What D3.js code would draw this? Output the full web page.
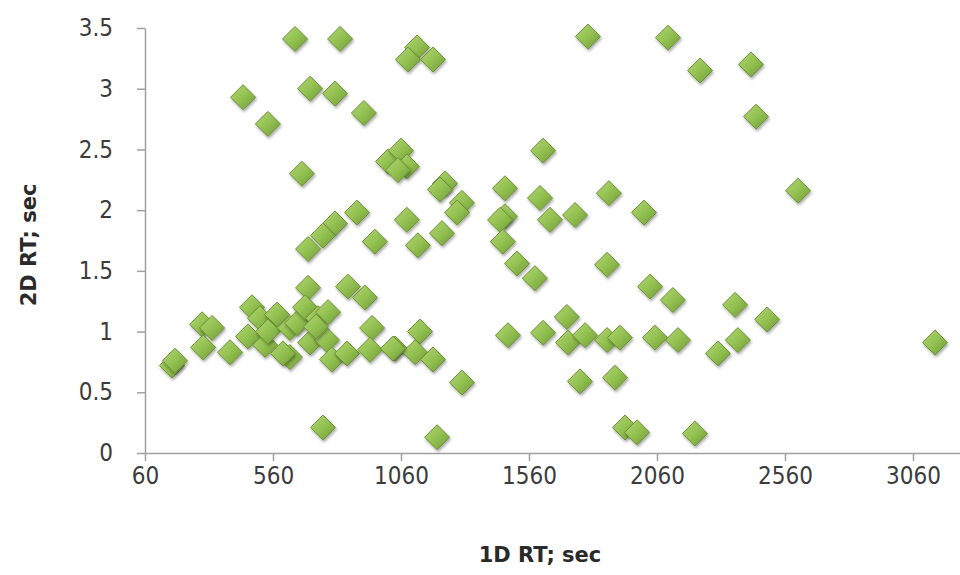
<!DOCTYPE html>
<meta charset="utf-8">
<script src="https://d3js.org/d3.v7.min.js"></script>
<style>
  body { margin: 0; background: #fff; }
  .tick text { font-family: "Liberation Sans Narrow", "DejaVu Sans Condensed", "Open Sans", sans-serif; fill: #3c3c3c; }
  .axis-title { font-family: "DejaVu Sans", sans-serif; font-weight: bold; fill: #2a2a2a; }
</style>
<div id="chart"></div>
<script>

// 1D retention time (sec)
var rt1 = [646, 822, 1123, 1087, 1185, 443, 540, 705, 802, 915,
    1790, 2103, 2228, 2427, 2447, 2611, 1615, 1603, 1642, 1740,
    1872, 2009, 673, 888, 802, 755, 697, 958, 1009, 1060,
    1083, 1048, 1232, 1212, 1298, 1279, 1466, 1466, 1447, 1458,
    1513, 1583, 1083, 1220, 1126, 1865, 2033, 2122, 2365, 2490,
    1708, 1615, 1478, 1712, 1779, 1865, 1915, 2052, 2142, 2298,
    2376, 3146, 1759, 1896, 1935, 1982, 2208, 1298, 1201, 755,
    1134, 1037, 1115, 1185, 165, 177, 283, 322, 287, 392,
    478, 509, 576, 462, 529, 540, 626, 654, 626, 599,
    697, 685, 736, 775, 705, 771, 790, 849, 853, 919,
    947, 939, 1029, 728];

// 2D retention time (sec)
var rt2 = [3.41, 3.41, 3.34, 3.24, 3.24, 2.93, 2.71, 3.00, 2.96, 2.80,
    3.43, 3.42, 3.15, 3.20, 2.77, 2.16, 2.49, 2.10, 1.92, 1.96,
    2.14, 1.98, 2.30, 1.98, 1.89, 1.79, 1.68, 1.74, 2.40, 2.49,
    2.36, 2.33, 2.22, 2.17, 2.06, 1.98, 2.18, 1.95, 1.92, 1.74,
    1.56, 1.44, 1.92, 1.81, 1.71, 1.55, 1.37, 1.26, 1.22, 1.10,
    1.12, 0.99, 0.97, 0.91, 0.97, 0.93, 0.95, 0.95, 0.93, 0.82,
    0.93, 0.91, 0.59, 0.62, 0.21, 0.17, 0.16, 0.58, 0.13, 0.21,
    1.00, 0.86, 0.83, 0.77, 0.72, 0.76, 1.06, 1.03, 0.87, 0.83,
    1.20, 1.11, 1.14, 0.96, 0.89, 1.00, 1.03, 1.07, 0.79, 0.82,
    1.36, 1.20, 1.11, 1.16, 0.91, 0.93, 0.77, 0.82, 1.37, 1.28,
    1.03, 0.85, 0.86, 1.04];

var xTicks = [60, 560, 1060, 1560, 2060, 2560, 3060];
var yTicks = [0, 0.5, 1, 1.5, 2, 2.5, 3, 3.5];

var width = 960, height = 575;

var svg = d3.select("#chart")
    .append("svg")
    .attr("width", width)
    .attr("height", height);

var defs = svg.append("defs");

// diamond shading
var grad = defs.append("linearGradient")
    .attr("id", "dgrad")
    .attr("x1", "0").attr("y1", "0")
    .attr("x2", "1").attr("y2", "1");
grad.append("stop").attr("offset", "0%").attr("stop-color", "#b2d675");
grad.append("stop").attr("offset", "50%").attr("stop-color", "#93c151");
grad.append("stop").attr("offset", "100%").attr("stop-color", "#6f9a34");

var shadow = defs.append("filter")
    .attr("id", "shadow")
    .attr("x", "-50%").attr("y", "-50%")
    .attr("width", "200%").attr("height", "200%");
shadow.append("feDropShadow")
    .attr("dx", 1).attr("dy", 2)
    .attr("stdDeviation", 1.6)
    .attr("flood-color", "#000")
    .attr("flood-opacity", 0.35);

// scales
var x = d3.scaleLinear()
    .domain([60, 3560])
    .range([145, 145 + 7 * 128]);

var y = d3.scaleLinear()
    .domain([0, 3.5])
    .range([453, 28]);

// X axis
svg.append("g")
    .attr("transform", "translate(0," + y(0) + ")")
    .call(d3.axisBottom(x).tickValues(xTicks).tickFormat(function (d) { return String(d); })
        .tickSize(8).tickSizeOuter(0).tickPadding(6));

// Y axis
svg.append("g")
    .attr("transform", "translate(" + x(60) + ",0)")
    .call(d3.axisLeft(y).tickValues(yTicks).tickFormat(function (d) { return String(d); })
        .tickSize(8).tickSizeOuter(0).tickPadding(24));

svg.selectAll(".domain, .tick line")
    .attr("stroke", "#a0a0a0")
    .attr("stroke-width", 1.5);
svg.selectAll(".tick text").style("font-size", "24px");

// axis titles
svg.append("text")
    .attr("class", "axis-title")
    .attr("x", 540)
    .attr("y", 562)
    .attr("text-anchor", "middle")
    .style("font-size", "21px")
    .text("1D RT; sec");

svg.append("text")
    .attr("class", "axis-title")
    .attr("transform", "translate(36,245) rotate(-90)")
    .attr("text-anchor", "middle")
    .style("font-size", "21px")
    .text("2D RT; sec");

// points
var points = rt1.map(function (d, i) { return { x: d, y: rt2[i] }; });

var r = 12.5;
svg.append("g")
    .selectAll("path")
    .data(points)
    .enter()
    .append("path")
    .attr("transform", function (d) { return "translate(" + x(d.x) + "," + y(d.y) + ")"; })
    .attr("d", "M0," + (-r) + "L" + r + ",0L0," + r + "L" + (-r) + ",0Z")
    .attr("fill", "url(#dgrad)")
    .attr("stroke", "#6d9136")
    .attr("stroke-width", 1)
    .attr("filter", "url(#shadow)");

</script>
